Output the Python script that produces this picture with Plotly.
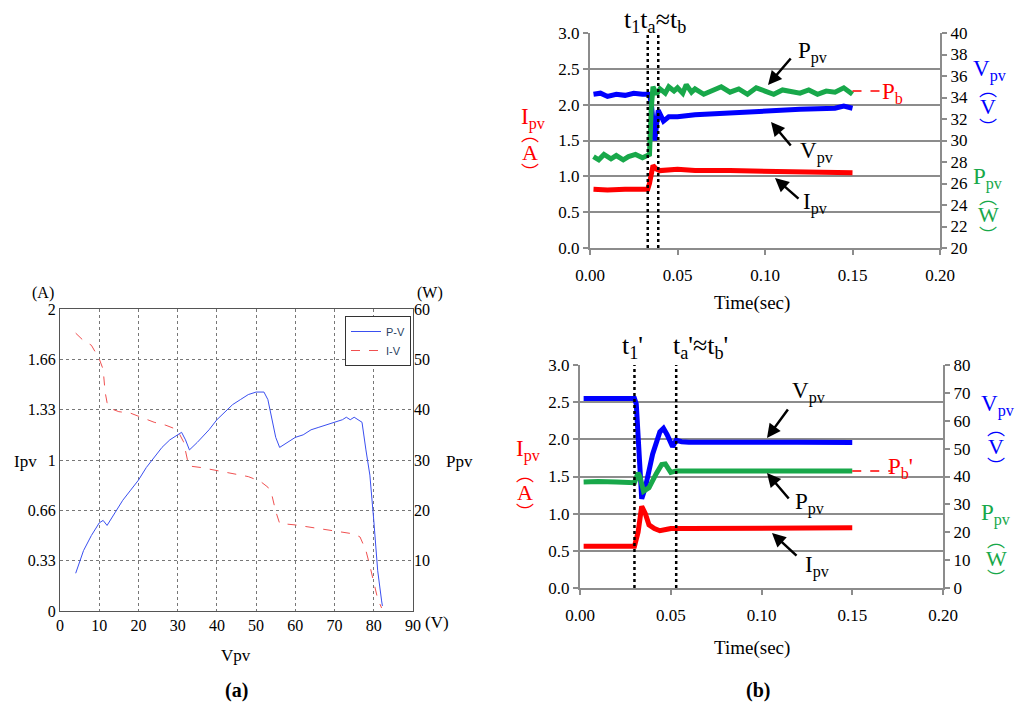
import plotly.graph_objects as go

# ---- Panel (a) data ----
pv_v = [4,6,8,10,11,12,14,16,18,20,22,24,26,28,30,31,32,33,35,38,40,42,44,46,48,50,52,53,54,55,56,58,60,62,64,66,68,70,72,73,74,75,76,77,78,79,80,81,82,82.2]
pv_p = [7.5,12,15,17.5,18,17,19.5,22,24,26,28.5,30.5,32.5,34,35,35.5,34,32,33.5,36,38,39.5,41,42,43,43.5,43.5,42,38,34.5,32.5,33.5,34.5,35,36,36.5,37,37.5,38,38.5,38,38.5,38,37.5,32,27,18,8,2,1]
iv_v = [4,6,8,10,11,11.5,12,13,15,18,20,22,24,27,29,30.5,31.5,32.5,33,36,40,44,48,51,53,54,55,56,60,65,70,75,76.5,78,79,80,81,82]
iv_i = [1.84,1.79,1.76,1.67,1.6,1.45,1.38,1.34,1.32,1.31,1.29,1.27,1.25,1.23,1.21,1.17,1.12,1.0,0.96,0.95,0.93,0.91,0.89,0.86,0.82,0.77,0.66,0.58,0.57,0.55,0.53,0.51,0.49,0.4,0.3,0.18,0.08,0.02]

# ---- Panel (b) top data ----
t1_I = [0.002,0.01,0.02,0.033,0.034,0.036,0.038,0.04,0.05,0.06,0.08,0.1,0.12,0.14,0.15]
I1 = [0.82,0.81,0.82,0.82,0.9,1.15,1.1,1.08,1.1,1.08,1.08,1.07,1.06,1.06,1.05]
t1_V = [0.002,0.006,0.01,0.015,0.02,0.025,0.03,0.034,0.035,0.037,0.039,0.042,0.045,0.05,0.06,0.07,0.08,0.1,0.12,0.14,0.145,0.15]
V1 = [34.3,34.4,34.1,34.3,34.2,34.4,34.3,34.3,33.5,30.0,32.8,31.8,32.2,32.2,32.4,32.5,32.6,32.8,32.9,33.0,33.2,33.0]
t1_P = [0.002,0.005,0.008,0.012,0.015,0.019,0.022,0.026,0.03,0.034,0.035,0.036,0.038,0.04,0.043,0.045,0.048,0.05,0.053,0.055,0.058,0.06,0.065,0.07,0.075,0.08,0.085,0.09,0.095,0.1,0.105,0.11,0.115,0.12,0.125,0.13,0.135,0.14,0.145,0.15]
P1 = [28.5,28.2,28.7,28.3,28.6,28.2,28.5,28.7,28.4,28.7,33,35,34.3,34.8,34.4,35,34.6,34.9,34.4,35.2,34.5,34.8,34.3,34.7,35,34.5,34.8,34.3,34.9,34.6,34.3,34.7,34.5,34.4,34.7,34.3,34.6,34.5,34.9,34.3]

# ---- Panel (b) bottom data ----
t2_I = [0.002,0.01,0.02,0.03,0.032,0.034,0.036,0.038,0.041,0.044,0.048,0.05,0.06,0.08,0.1,0.12,0.15]
I2 = [0.56,0.56,0.56,0.56,0.75,1.1,1.0,0.85,0.8,0.77,0.79,0.8,0.8,0.8,0.8,0.8,0.81]
t2_V = [0.002,0.01,0.02,0.03,0.031,0.033,0.034,0.036,0.04,0.044,0.046,0.048,0.051,0.053,0.056,0.06,0.08,0.1,0.12,0.15]
V2 = [68,68,68,68,66,45,32,36,48,56,57.3,55,50.7,53,52.5,52.3,52.4,52.3,52.3,52.2]
t2_P = [0.002,0.01,0.02,0.03,0.032,0.033,0.035,0.038,0.042,0.045,0.047,0.05,0.053,0.06,0.08,0.1,0.12,0.15]
P2 = [38,38.2,38,37.8,41.3,40,34.7,36,41,44.3,44.5,41.5,42,42,42.1,41.9,42,42]

OFF = 8  # page body margin
W, H = 1024 - 2 * OFF, 711 - 2 * OFF
px = lambda x: (x - OFF) / W
py = lambda y: 1 - (y - OFF) / H
SERIF = "Liberation Serif"
GRAY = "#8c8c8c"
GREEN = "#18a84a"

fig = go.Figure()
fig.add_trace(go.Scatter(x=pv_v, y=pv_p, name="P-V", mode="lines", line=dict(color="#3a4ff0", width=1), xaxis="x", yaxis="y2"))
fig.add_trace(go.Scatter(x=iv_v, y=iv_i, name="I-V", mode="lines", line=dict(color="#f05050", width=1, dash="dash"), xaxis="x", yaxis="y"))

thick = 5
for xs, ys, c, ya, xa in [
    (t1_I, I1, "#ff0000", "y3", "x2"), (t1_V, V1, "#0000ff", "y4", "x2"), (t1_P, P1, GREEN, "y4", "x2"),
    (t2_I, I2, "#ff0000", "y5", "x3"), (t2_V, V2, "#0000ff", "y6", "x3"), (t2_P, P2, GREEN, "y6", "x3")]:
    fig.add_trace(go.Scatter(x=xs, y=ys, mode="lines", line=dict(color=c, width=thick), xaxis=xa, yaxis=ya, showlegend=False))

fig.add_trace(go.Scatter(x=[0.15, 0.168], y=[34.6, 34.6], mode="lines", line=dict(color="red", width=1.5, dash="dash"), xaxis="x2", yaxis="y4", showlegend=False))
fig.add_trace(go.Scatter(x=[0.15, 0.171], y=[42, 42], mode="lines", line=dict(color="red", width=1.5, dash="dash"), xaxis="x3", yaxis="y6", showlegend=False))

afont = dict(family=SERIF, size=16, color="black")
bfont = dict(family=SERIF, size=17, color="black")
bax = dict(showline=True, linecolor=GRAY, linewidth=2, ticks="outside", tickcolor=GRAY, tickwidth=2, ticklen=5,
           tickfont=bfont, automargin=False)

fig.update_layout(
    width=W, height=H, paper_bgcolor="white", plot_bgcolor="white",
    font=dict(family=SERIF),
    margin=dict(l=0, r=0, t=0, b=0, autoexpand=False),
    showlegend=True,
    legend=dict(x=px(345), y=py(316), xanchor="left", yanchor="top", bordercolor="#333", borderwidth=1,
                font=dict(family="Liberation Sans", size=11), bgcolor="white"),
    xaxis=dict(domain=[px(60), px(413)], range=[0, 90], dtick=10, showgrid=True, griddash="dot", gridcolor="#777",
               showline=True, linecolor="#555", mirror=True, ticks="", tickfont=afont, zeroline=False, automargin=False),
    yaxis=dict(domain=[py(611), py(309)], range=[0, 2], tickvals=[0, 1/3, 2/3, 1, 4/3, 5/3, 2],
               ticktext=["0", "0.33", "0.66", "1", "1.33", "1.66", "2"], showgrid=True, griddash="dot", gridcolor="#777",
               showline=True, linecolor="#555", mirror=True, ticks="", tickfont=afont, zeroline=False, automargin=False),
    yaxis2=dict(overlaying="y", side="right", range=[0, 60], tickvals=[10, 20, 30, 40, 50, 60], showgrid=False,
                tickfont=afont, anchor="x", zeroline=False, automargin=False),
    xaxis2=dict(domain=[px(590), px(940)], range=[0, 0.2], tickvals=[0, 0.05, 0.1, 0.15, 0.2],
                ticktext=["0.00", "0.05", "0.10", "0.15", "0.20"], anchor="y3", showgrid=False, zeroline=False,
                ticklabelstandoff=6, **bax),
    yaxis3=dict(domain=[py(248), py(33)], range=[0, 3], dtick=0.5, tickformat=".1f", anchor="x2", showgrid=True,
                gridcolor=GRAY, gridwidth=2, zeroline=False, **bax),
    yaxis4=dict(overlaying="y3", side="right", range=[20, 40], dtick=2, anchor="x2", showgrid=False, zeroline=False, **bax),
    xaxis3=dict(domain=[px(580), px(943)], range=[0, 0.2], tickvals=[0, 0.05, 0.1, 0.15, 0.2],
                ticktext=["0.00", "0.05", "0.10", "0.15", "0.20"], anchor="y5", showgrid=False, zeroline=False,
                ticklabelstandoff=6, **bax),
    yaxis5=dict(domain=[py(588), py(365)], range=[0, 3], dtick=0.5, tickformat=".1f", anchor="x3", showgrid=True,
                gridcolor=GRAY, gridwidth=2, zeroline=False, **bax),
    yaxis6=dict(overlaying="y5", side="right", range=[0, 80], dtick=10, anchor="x3", showgrid=False, zeroline=False, **bax),
)

for xv, xr, yr in [(0.033, "x2", "y3"), (0.039, "x2", "y3"), (0.030, "x3", "y5"), (0.053, "x3", "y5")]:
    fig.add_shape(type="line", x0=xv, x1=xv, y0=0, y1=1, xref=xr, yref=yr + " domain", line=dict(color="black", width=2.5, dash="dot"))

def txt(x, y, s, size=18, color="black", angle=0, bold=False, anchor="center", family=SERIF):
    if bold:
        s = "<b>" + s + "</b>"
    fig.add_annotation(x=px(x), y=py(y), xref="paper", yref="paper", text=s, showarrow=False, xanchor=anchor,
                       yanchor="middle", font=dict(family=family, size=size, color=color), textangle=angle)

def unit(x, y, letter, color, size=22):
    txt(x, y - 19, "︵", 18, color, family="Noto Sans CJK SC")
    txt(x, y, letter, size, color)
    txt(x, y + 19, "︶", 18, color, family="Noto Sans CJK SC")

def arrow(hx, hy, tx, ty):
    fig.add_annotation(x=px(hx), y=py(hy), xref="paper", yref="paper", ax=tx - hx, ay=ty - hy, text="",
                       showarrow=True, arrowhead=2, arrowsize=1.1, arrowwidth=2.5, arrowcolor="black")

LS = 23
# panel a texts
txt(43, 293, "(A)", 16); txt(430, 293, "(W)", 16); txt(437, 622, "(V)", 17)
txt(25, 461, "Ipv", 17); txt(459, 461, "Ppv", 17); txt(236, 655, "Vpv", 17)
txt(236, 690, "(a)", 20, bold=True); txt(758, 690, "(b)", 20, bold=True)

# panel b top
txt(655, 21, "t<sub>1</sub>t<sub>a</sub>≈t<sub>b</sub>", 26)
txt(752, 303, "Time(sec)", 19); txt(752, 648, "Time(sec)", 19)
arrow(768, 85, 792, 57); txt(796, 52, "P<sub>pv</sub>", LS, anchor="left")
arrow(771, 122, 792, 147); txt(798, 152, "V<sub>pv</sub>", LS, anchor="left")
arrow(775, 178, 800, 200); txt(801, 203, "I<sub>pv</sub>", LS, anchor="left")
txt(880, 93, "P<sub>b</sub>", LS, "red", anchor="left")
txt(990, 70, "V<sub>pv</sub>", LS, "blue"); unit(988, 107, "V", "blue")
txt(988, 178, "P<sub>pv</sub>", LS, GREEN); unit(988, 215, "W", GREEN)
txt(533, 118, "I<sub>pv</sub>", LS, "red"); unit(530, 152, "A", "red")

# panel b bottom
txt(632, 347, "t<sub>1</sub>'", 26); txt(700, 347, "t<sub>a</sub>'≈t<sub>b</sub>'", 26)
arrow(767, 438, 789, 408); txt(790, 392, "V<sub>pv</sub>", LS, anchor="left")
arrow(767, 473, 790, 500); txt(793, 503, "P<sub>pv</sub>", LS, anchor="left")
arrow(772, 533, 798, 557); txt(803, 566, "I<sub>pv</sub>", LS, anchor="left")
txt(886, 468, "P<sub>b</sub>'", LS, "red", anchor="left")
txt(998, 405, "V<sub>pv</sub>", LS, "blue"); unit(996, 446, "V", "blue")
txt(996, 515, "P<sub>pv</sub>", LS, GREEN); unit(996, 558, "W", GREEN)
txt(528, 450, "I<sub>pv</sub>", LS, "red"); unit(525, 492, "A", "red")

fig.write_html("out.html")
